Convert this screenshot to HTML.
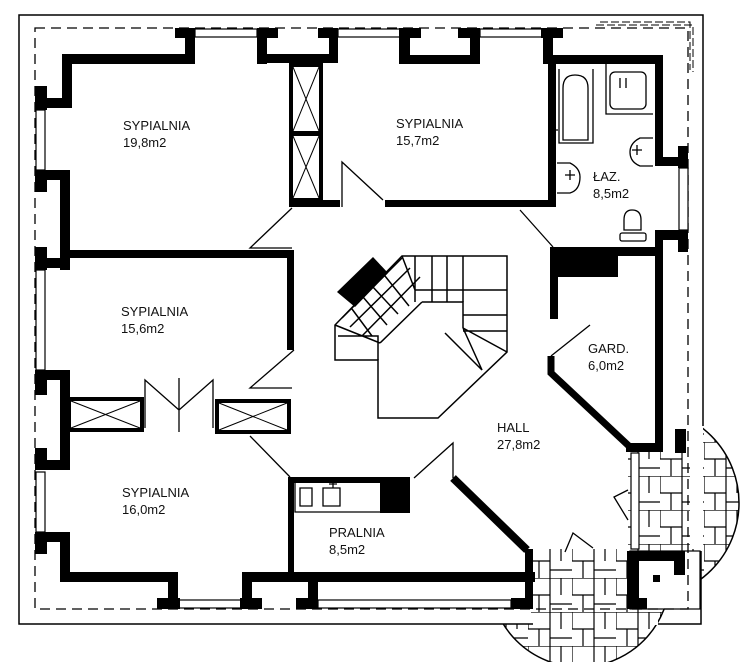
<!DOCTYPE html>
<html><head><meta charset="utf-8"><style>
html,body{margin:0;padding:0;background:#fff;width:756px;height:662px;overflow:hidden}
svg{display:block}
text{font-family:"Liberation Sans",sans-serif;font-size:13px;fill:#111}
</style></head><body>
<svg width="756" height="662" viewBox="0 0 756 662" xmlns="http://www.w3.org/2000/svg">
<defs>
<pattern id="pav" width="44" height="34" patternUnits="userSpaceOnUse">
<rect width="44" height="34" fill="#fff"/>
<path d="M0 0H44M0 17H22M22 0V34M11 17V34M33 0V17M0 0V17M22 26H44" stroke="#000" stroke-width="1.2" fill="none"/>
</pattern>
</defs>
<circle cx="644" cy="503" r="95" fill="url(#pav)" stroke="#000" stroke-width="1.5"/>
<circle cx="580" cy="577" r="90" fill="url(#pav)" stroke="#000" stroke-width="1.5"/>
<rect x="531" y="549" width="127" height="76" fill="url(#pav)"/>
<rect x="20" y="16" width="683" height="533" fill="#fff"/>
<rect x="20" y="16" width="511" height="608" fill="#fff"/>
<rect x="628" y="450" width="62" height="105" fill="url(#pav)"/>
<rect x="531" y="549" width="97" height="60" fill="url(#pav)"/>
<path d="M533 624H19V15H703V426M658 624H701V551" fill="none" stroke="#000" stroke-width="1.5"/>
<rect x="630" y="551" width="70" height="58" fill="#fff" stroke="#000" stroke-width="1.2"/>
<path d="M35 28H688V609H35Z" fill="none" stroke="#000" stroke-width="1.3" stroke-dasharray="10 6"/>
<path d="M600 22H690V70M596 25H693V72" fill="none" stroke="#000" stroke-width="1" stroke-dasharray="8 3"/>
<g stroke="#000" stroke-width="1.2" fill="#fff">
<rect x="195" y="29" width="62" height="8"/><rect x="338" y="29" width="62" height="8"/><rect x="480" y="29" width="62" height="8"/>
<rect x="36" y="110" width="9" height="60"/><rect x="36" y="270" width="9" height="100"/><rect x="36" y="472" width="9" height="60"/>
<rect x="179" y="600" width="62" height="8"/><rect x="318" y="600" width="193" height="8"/>
<rect x="679" y="168" width="9" height="62"/>
<rect x="631" y="453" width="8" height="96"/>
</g>
<g fill="#000">
<rect x="175" y="28" width="20" height="10"/><rect x="185" y="28" width="10" height="36"/><rect x="62" y="54" width="133" height="10"/><rect x="62" y="54" width="10" height="54"/><rect x="35" y="98" width="37" height="10"/><rect x="35" y="86" width="12" height="24"/>
<rect x="35" y="170" width="12" height="22"/><rect x="35" y="170" width="35" height="10"/><rect x="60" y="170" width="10" height="100"/><rect x="35" y="258" width="35" height="10"/><rect x="35" y="247" width="12" height="23"/>
<rect x="60" y="250" width="233" height="8"/><rect x="287" y="250" width="7" height="100"/>
<rect x="257" y="28" width="21" height="10"/><rect x="257" y="28" width="10" height="36"/><rect x="257" y="54" width="81" height="9"/><rect x="329" y="28" width="9" height="35"/><rect x="318" y="28" width="20" height="10"/>
<rect x="399" y="28" width="22" height="10"/><rect x="399" y="28" width="11" height="36"/><rect x="399" y="55" width="81" height="9"/><rect x="470" y="28" width="10" height="36"/><rect x="458" y="28" width="22" height="10"/>
<rect x="541" y="28" width="22" height="10"/><rect x="543" y="28" width="10" height="36"/>
<rect x="289" y="200" width="51" height="7"/><rect x="385" y="200" width="171" height="7"/><rect x="548" y="58" width="8" height="149"/>
<rect x="548" y="55" width="115" height="9"/><rect x="655" y="55" width="8" height="110"/><rect x="655" y="157" width="33" height="9"/><rect x="678" y="146" width="10" height="22"/>
<rect x="678" y="230" width="10" height="22"/><rect x="655" y="230" width="33" height="10"/><rect x="655" y="230" width="8" height="220"/>
<rect x="552" y="247" width="111" height="9"/><rect x="550" y="247" width="68" height="30"/><rect x="550" y="247" width="8" height="72"/>
<rect x="626" y="443" width="37" height="9"/><rect x="675" y="429" width="11" height="24"/>
<rect x="35" y="370" width="12" height="25"/><rect x="35" y="370" width="35" height="10"/><rect x="60" y="370" width="10" height="100"/><rect x="35" y="460" width="35" height="10"/><rect x="35" y="448" width="12" height="22"/>
<rect x="35" y="532" width="12" height="22"/><rect x="35" y="532" width="35" height="10"/><rect x="60" y="532" width="10" height="50"/><rect x="60" y="572" width="118" height="10"/><rect x="168" y="572" width="10" height="37"/><rect x="157" y="598" width="23" height="11"/>
<rect x="240" y="598" width="22" height="11"/><rect x="242" y="572" width="10" height="37"/><rect x="242" y="572" width="293" height="10"/><rect x="308" y="572" width="10" height="37"/><rect x="296" y="598" width="22" height="11"/>
<rect x="511" y="598" width="22" height="11"/><rect x="525" y="549" width="8" height="60"/>
<rect x="288" y="477" width="6" height="105"/><rect x="288" y="477" width="92" height="6"/><rect x="380" y="477" width="30" height="36"/>
<rect x="627" y="551" width="12" height="58"/><rect x="627" y="551" width="55" height="10"/><rect x="674" y="551" width="11" height="24"/><rect x="627" y="598" width="20" height="11"/><rect x="653" y="575" width="7" height="7"/>
</g>
<g fill="none" stroke="#000">
<path d="M453 478L527 550" stroke-width="8"/>
<path d="M551 356V373L630 447" stroke-width="7"/>
<g stroke-width="1.3">
<path d="M342 207V162L383 200"/>
<path d="M292 208L250 248H292"/>
<path d="M294 350L250 388H292"/>
<path d="M250 436L290 477"/>
<path d="M453 478V443L414 478"/>
<path d="M520 210L553 247"/>
<path d="M551 356L590 325"/>
<path d="M628 490L614 497L628 520"/>
<path d="M565 552L573 533L593 548"/>
<path d="M145 428V380L179 410L213 380V428M179 378V432"/>
</g>
<g stroke-width="4"><rect x="291" y="65" width="30" height="68"/><rect x="291" y="134" width="30" height="66"/><rect x="69" y="399" width="73" height="31"/><rect x="217" y="401" width="72" height="31"/></g>
<g stroke-width="1"><path d="M293 67L319 131M319 67L293 131M293 136L319 198M319 136L293 198M71 401L140 428M140 401L71 428M219 403L287 430M287 403L219 430"/></g>
<g stroke-width="1.3">
<path d="M559 69V143H593V69"/><path d="M563 140V88Q563 75 575 75Q588 75 588 88V140Z"/>
<path d="M606 64V114H653"/><rect x="610" y="72" width="36" height="37" rx="5"/>
<path d="M557 163H570Q580 168 580 177Q580 190 570 193H557"/><path d="M653 138H640Q630 143 630 152Q630 162 640 166H653"/>
<path d="M624 230V220Q624 210 632 210Q641 210 641 220V230Z"/><rect x="620" y="233" width="26" height="8" rx="2"/>
<path d="M295 482V512H383M300 488h12v18h-12zM323 488h17v18h-17z"/>
<path d="M548 130h10M553 125v10M565 175h10M570 170v10M632 150h10M637 145v10M620 78v10M626 78v10M333 488v-8M329 484h8"/>
</g>
<g stroke-width="1.5">
<path d="M402 256H507V352L438 418H378V360H335V325Z"/>
<path d="M422 302H463V328M422 302L380 343M338 336H378V360M380 343L335 325"/>
<path d="M463 328L507 352M445 333L482 370L463 328M415 302V256M432 256V302M447 256V302M463 256V302M402 256L415 290H507M463 315H507M463 331H507"/>
<path d="M352 309L372 336M363 297L387 325M372 286L398 314M385 276L409 306M342 318L402 258M350 327L410 268M362 336L420 277"/>
</g>
</g>
<path d="M337 292L373 257L388 273L355 307Z" fill="#000"/>
<text x="123" y="130">SYPIALNIA</text><text x="123" y="147">19,8m2</text>
<text x="396" y="128">SYPIALNIA</text><text x="396" y="145">15,7m2</text>
<text x="593" y="181">ŁAZ.</text><text x="593" y="198">8,5m2</text>
<text x="121" y="316">SYPIALNIA</text><text x="121" y="333">15,6m2</text>
<text x="588" y="353">GARD.</text><text x="588" y="370">6,0m2</text>
<text x="497" y="432">HALL</text><text x="497" y="449">27,8m2</text>
<text x="122" y="497">SYPIALNIA</text><text x="122" y="514">16,0m2</text>
<text x="329" y="537">PRALNIA</text><text x="329" y="554">8,5m2</text>
</svg>
</body></html>
